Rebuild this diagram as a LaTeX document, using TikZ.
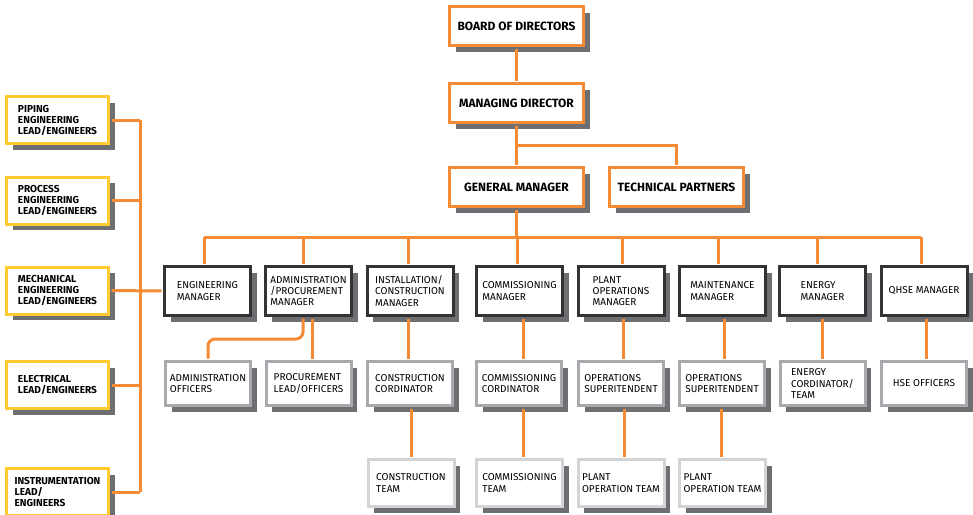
\documentclass[tikz,border=0pt]{standalone}
\usepackage{fontspec}
\setmainfont{Fira Sans}
\usetikzlibrary{shadows,calc}
\definecolor{orng}{HTML}{F58B35}
\definecolor{yell}{HTML}{FFCB2F}
\definecolor{darkb}{HTML}{333333}
\definecolor{grayb}{HTML}{A7A9AC}
\definecolor{lightb}{HTML}{D3D4D6}
\definecolor{shadowc}{HTML}{6E6F72}
\tikzset{
  box/.style={rectangle, inner sep=0pt, fill=white, line width=3pt, align=left,
    general shadow={fill=shadowc, shadow xshift=6pt, shadow yshift=-6pt}},
  topbox/.style={box, draw=orng, minimum width=134pt, minimum height=39pt,
    font=\bfseries\fontsize{12}{14}\selectfont},
  mgr/.style={box, draw=darkb, minimum width=86pt, minimum height=49pt,
    font=\fontsize{10}{11.3}\selectfont},
  subbox/.style={box, draw=grayb, minimum width=85pt, minimum height=44pt,
    font=\fontsize{10}{11.3}\selectfont},
  team/.style={box, draw=lightb, minimum width=86pt, minimum height=47pt,
    font=\fontsize{10}{11.3}\selectfont},
  lead/.style={box, draw=yell, minimum width=102pt, minimum height=47pt,
    font=\bfseries\fontsize{10.1}{11}\selectfont},
  conn/.style={draw=orng, line width=3pt},
  sh/.style={shorten <=1.5pt},
  she/.style={shorten >=1.5pt},
}
\begin{document}
\begin{tikzpicture}[x=1pt,y=-1pt]
\useasboundingbox (0,0) rectangle (973,514);
% top
\node[topbox] (bod) at (516.5,26) {BOARD OF DIRECTORS};
\node[topbox] (md) at (516.5,103) {MANAGING DIRECTOR};
\node[topbox] (gm) at (516.5,187) {GENERAL MANAGER};
\node[topbox] (tp) at (676.5,187) {TECHNICAL PARTNERS};
% managers
\node[mgr] (eng) at (207.5,291) {ENGINEERING\\MANAGER};
\node[mgr] (adm) at (308.5,291) {ADMINISTRATION\\/PROCUREMENT\\MANAGER};
\node[mgr] (ins) at (410,291) {INSTALLATION/\\CONSTRUCTION\\MANAGER};
\node[mgr] (com) at (519.5,291) {COMMISSIONING\\MANAGER};
\node[mgr] (pla) at (621,291) {PLANT\\OPERATIONS\\MANAGER};
\node[mgr] (mai) at (722.5,291) {MAINTENANCE\\MANAGER};
\node[mgr] (ene) at (822.5,291) {ENERGY\\MANAGER};
\node[mgr] (qhs) at (924,291) {QHSE MANAGER};
% second row
\node[subbox] (sadm) at (208,383.5) {ADMINISTRATION\\OFFICERS};
\node[subbox] (spro) at (308.5,383.5) {PROCUREMENT\\LEAD/OFFICERS};
\node[subbox] (scon) at (410,383.5) {CONSTRUCTION\\CORDINATOR};
\node[subbox] (scom) at (519,383.5) {COMMISSIONING\\CORDINATOR};
\node[subbox] (sop1) at (621,383.5) {OPERATIONS\\SUPERITENDENT};
\node[subbox] (sop2) at (722,383.5) {OPERATIONS\\SUPERITENDENT};
\node[subbox] (sene) at (822.5,383.5) {ENERGY\\CORDINATOR/\\TEAM};
\node[subbox] (shse) at (924,383.5) {HSE OFFICERS};
% third row
\node[team] (tcon) at (411,483) {CONSTRUCTION\\TEAM};
\node[team] (tcom) at (519.5,483) {COMMISSIONING\\TEAM};
\node[team] (tpl1) at (621,483) {PLANT\\OPERATION TEAM};
\node[team] (tpl2) at (722.5,483) {PLANT\\OPERATION TEAM};
% left leads
\node[lead] (lpip) at (57.5,120) {PIPING\\ENGINEERING\\LEAD/ENGINEERS};
\node[lead] (lpro) at (57.5,200.5) {PROCESS\\ENGINEERING\\LEAD/ENGINEERS};
\node[lead] (lmec) at (57.5,290.5) {MECHANICAL\\ENGINEERING\\LEAD/ENGINEERS};
\node[lead] (lele) at (57.5,385) {ELECTRICAL\\LEAD/ENGINEERS};
\node[lead] (lins) at (57.5,492) {INSTRUMENTATION\\LEAD/\\ENGINEERS};
% helper coordinates
\coordinate (ytp) at (0,145);
\coordinate (bus) at (0,237);
\coordinate (ya) at (0,339);
\coordinate (sp) at (140,0);
\coordinate (engt) at ($(eng.north)+(-3.5,0)$);
\coordinate (admt) at ($(adm.north)+(-5.5,0)$);
\coordinate (inst) at ($(ins.north)+(-2,0)$);
\coordinate (comt) at ($(com.north)+(-2.5,0)$);
\coordinate (plat) at ($(pla.north)+(1,0)$);
\coordinate (mait) at ($(mai.north)+(-4.5,0)$);
\coordinate (enet) at ($(ene.north)+(-5.5,0)$);
\coordinate (qhst) at ($(qhs.north)+(-3,0)$);
% connectors top
\draw[conn,sh,she] (bod.south) -- (md.north);
\draw[conn,sh,she] (md.south) -- (gm.north);
\draw[conn,she] (md.south |- ytp) -| (tp.north);
\draw[conn,sh] (gm.south) -- (gm.south |- bus);
\draw[conn] (engt |- bus) -- (qhst |- bus);
\foreach \t in {engt,admt,inst,comt,plat,mait,enet,qhst}
  \draw[conn,sh] (\t) -- (\t |- bus);
% managers to second row
\draw[conn,sh,she,rounded corners=7pt] ($(adm.south)+(-5.5,0)$) |- (sadm.north |- ya) -- (sadm.north);
\draw[conn,sh,she] ($(adm.south)+(3.5,0)$) -- ($(spro.north)+(3.5,0)$);
\draw[conn,sh,she] ($(ins.south)+(-2,0)$) -- ($(scon.north)+(-2,0)$);
\draw[conn,sh,she] ($(com.south)+(3.5,0)$) -- ($(scom.north)+(4,0)$);
\draw[conn,sh,she] ($(pla.south)+(2,0)$) -- ($(sop1.north)+(2,0)$);
\draw[conn,sh,she] ($(mai.south)+(1.5,0)$) -- ($(sop2.north)+(2,0)$);
\draw[conn,sh,she] (ene.south) -- (sene.north);
\draw[conn,sh,she] ($(qhs.south)+(2,0)$) -- ($(shse.north)+(2,0)$);
% second row to teams
\draw[conn,sh,she] ($(scon.south)+(1,0)$) -- (tcon.north);
\draw[conn,sh,she] ($(scom.south)+(4,0)$) -- ($(tcom.north)+(3.5,0)$);
\draw[conn,sh,she] ($(sop1.south)+(3,0)$) -- ($(tpl1.north)+(3,0)$);
\draw[conn,sh,she] ($(sop2.south)+(-1,0)$) -- ($(tpl2.north)+(-1.5,0)$);
% left spine
\draw[conn] (lpip.east -| sp) -- (lins.east -| sp);
\draw[conn,sh] (lpip.east) -- (lpip.east -| sp);
\draw[conn,sh] (lpro.east) -- (lpro.east -| sp);
\draw[conn,sh,she] (lmec.east) -- (eng.west);
\draw[conn,sh] (lele.east) -- (lele.east -| sp);
\draw[conn,sh] (lins.east) -- (lins.east -| sp);
\end{tikzpicture}
\end{document}
